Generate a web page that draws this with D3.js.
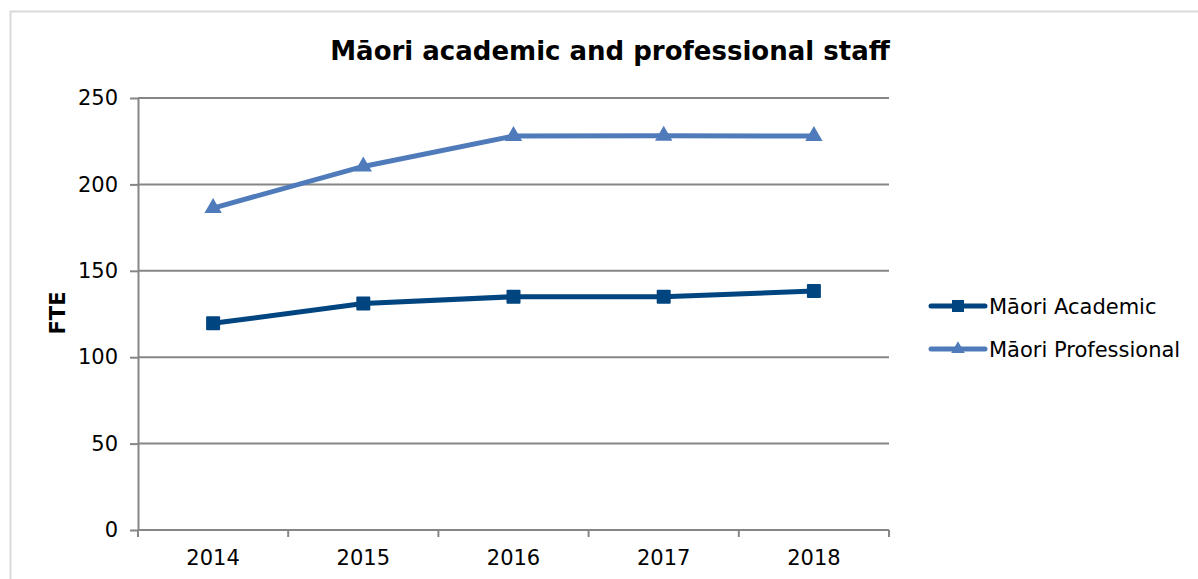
<!DOCTYPE html>
<html>
<head>
<meta charset="utf-8">
<script src="https://cdn.jsdelivr.net/npm/d3@7"></script>
<style>
  html, body { margin: 0; padding: 0; background: #fff; }
  svg { display: block; font-family: "DejaVu Sans", Verdana, sans-serif; }
</style>
</head>
<body>
<svg id="chart" width="1198" height="579"></svg>
<script>
// Staff FTE by year
const years = ["2014", "2015", "2016", "2017", "2018"];
const academic = [119.6, 131.1, 135, 135, 138.3];
const professional = [186.3, 210.4, 228, 228.2, 228];
const yTicks = [0, 50, 100, 150, 200, 250];
const seriesNames = ["Māori Academic", "Māori Professional"];
const seriesColors = ["#00457f", "#4f7bbb"];

const svg = d3.select("#chart");
const W = 1198, H = 579;
const plot = { left: 138, right: 889, top: 98, bottom: 530 };
const labelSize = 21;

// outer frame
svg.append("rect")
  .attr("x", 10.5).attr("y", 11.5)
  .attr("width", W + 20).attr("height", H + 20)
  .attr("fill", "#fff").attr("stroke", "#d9d9d9").attr("stroke-width", 2);

const x = d3.scaleBand().domain(years).range([plot.left, plot.right]).padding(0);
const y = d3.scaleLinear().domain([0, 250]).range([plot.bottom, plot.top]);

// horizontal gridlines
svg.append("g")
  .selectAll("line")
  .data(yTicks)
  .join("line")
  .attr("x1", plot.left).attr("x2", plot.right)
  .attr("y1", d => y(d)).attr("y2", d => y(d))
  .attr("stroke", "#868686").attr("stroke-width", 2);

// y axis
const yAxis = svg.append("g")
  .attr("transform", `translate(${plot.left},0)`)
  .call(d3.axisLeft(y).tickValues(yTicks).tickSize(8).tickPadding(12).tickSizeOuter(0));
yAxis.select(".domain").attr("stroke", "#868686").attr("stroke-width", 2);
yAxis.selectAll(".tick line").attr("stroke", "#868686").attr("stroke-width", 2);
yAxis.selectAll(".tick text")
  .attr("font-size", labelSize).attr("fill", "#000")
  .attr("font-family", "DejaVu Sans, Verdana, sans-serif");

// x axis with ticks at category boundaries
const xAxis = svg.append("g").attr("transform", `translate(0,${plot.bottom})`);
xAxis.append("line")
  .attr("x1", plot.left).attr("x2", plot.right)
  .attr("stroke", "#868686").attr("stroke-width", 2);
const bounds = years.map(d => x(d)).concat([x(years[years.length - 1]) + x.bandwidth()]);
xAxis.selectAll("line.tk")
  .data(bounds)
  .join("line").attr("class", "tk")
  .attr("x1", d => d).attr("x2", d => d)
  .attr("y1", 0).attr("y2", 7)
  .attr("stroke", "#868686").attr("stroke-width", 2);
xAxis.selectAll("text")
  .data(years)
  .join("text")
  .attr("x", d => x(d) + x.bandwidth() / 2)
  .attr("y", 35)
  .attr("text-anchor", "middle")
  .attr("font-size", labelSize).attr("fill", "#000")
  .text(d => d);

// title
svg.append("text")
  .attr("x", 610).attr("y", 60)
  .attr("text-anchor", "middle")
  .attr("font-size", 26).attr("font-weight", "bold")
  .text("Māori academic and professional staff");

// y axis title
svg.append("text")
  .attr("transform", `translate(65,${(plot.top + plot.bottom) / 2 - 1}) rotate(-90)`)
  .attr("text-anchor", "middle")
  .attr("font-size", 21).attr("font-weight", "bold")
  .text("FTE");

const cx = d => x(d) + x.bandwidth() / 2;
const line = d3.line().x((v, i) => cx(years[i])).y(v => y(v));

const triangle = d3.symbol().type(d3.symbolTriangle).size(130);

function drawSeries(values, color, marker) {
  const g = svg.append("g");
  g.append("path")
    .attr("d", line(values))
    .attr("fill", "none").attr("stroke", color)
    .attr("stroke-width", 5).attr("stroke-linejoin", "round").attr("stroke-linecap", "round");
  if (marker === "square") {
    g.selectAll("rect").data(values).join("rect")
      .attr("x", (v, i) => cx(years[i]) - 7).attr("y", v => y(v) - 7)
      .attr("width", 14).attr("height", 14).attr("rx", 1)
      .attr("fill", color);
  } else {
    g.selectAll("path.m").data(values).join("path").attr("class", "m")
      .attr("transform", (v, i) => `translate(${cx(years[i])},${y(v)})`)
      .attr("d", triangle).attr("fill", color);
  }
}
drawSeries(academic, seriesColors[0], "square");
drawSeries(professional, seriesColors[1], "triangle");

// legend
const legend = svg.append("g");
[0, 1].forEach(i => {
  const ly = 306 + i * 43;
  legend.append("line")
    .attr("x1", 931).attr("x2", 985).attr("y1", ly).attr("y2", ly)
    .attr("stroke", seriesColors[i]).attr("stroke-width", 5).attr("stroke-linecap", "round");
  if (i === 0) {
    legend.append("rect").attr("x", 952).attr("y", ly - 6).attr("width", 12).attr("height", 12)
      .attr("fill", seriesColors[i]);
  } else {
    legend.append("path").attr("transform", `translate(958,${ly})`)
      .attr("d", d3.symbol().type(d3.symbolTriangle).size(80)).attr("fill", seriesColors[i]);
  }
  legend.append("text")
    .attr("x", 989).attr("y", ly + 8)
    .attr("font-size", labelSize).attr("fill", "#000")
    .text(seriesNames[i]);
});
</script>
</body>
</html>
